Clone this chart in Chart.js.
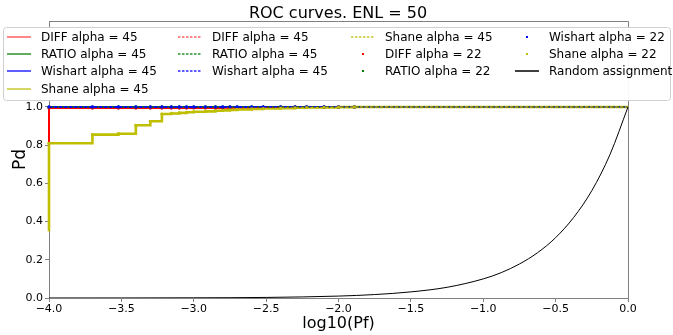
<!DOCTYPE html>
<html>
<head>
<meta charset="utf-8">
<script src="https://cdn.jsdelivr.net/npm/chart.js@4"></script>
<style>
  html, body { margin: 0; padding: 0; background: #fff; }
  #wrap { width: 673px; height: 335px; }
</style>
</head>
<body>
<div id="wrap"><canvas id="roc" width="673" height="335"></canvas></div>
<script>
// log10(Pf) positions where the ROC curves step
const pfLog = [-4.0, -3.7, -3.52, -3.4, -3.3, -3.22, -3.155, -3.1, -3.05, -3.0, -2.92, -2.85, -2.8,
  -2.75, -2.7, -2.6, -2.52, -2.4, -2.3, -2.22, -2.1, -2.0, -1.89, -1.5, -1.0, -0.5, 0.0];

const pdDiff = [0.994, 0.994, 0.994, 0.994, 0.994, 0.994, 0.994, 0.994, 0.994, 0.995, 0.995, 0.995, 0.996,
  0.996, 0.996, 0.997, 0.998, 0.999, 1.0, 1.0, 1.0, 1.0, 1.0, 1.0, 1.0, 1.0, 1.0];
const pdRatio = [1.0, 1.0, 1.0, 1.0, 1.0, 1.0, 1.0, 1.0, 1.0, 1.0, 1.0, 1.0, 1.0,
  1.0, 1.0, 1.0, 1.0, 1.0, 1.0, 1.0, 1.0, 1.0, 1.0, 1.0, 1.0, 1.0, 1.0];
const pdWishart = [1.0, 1.0, 1.0, 1.0, 1.0, 1.0, 1.0, 1.0, 1.0, 1.0, 1.0, 1.0, 1.0,
  1.0, 1.0, 1.0, 1.0, 1.0, 1.0, 1.0, 1.0, 1.0, 1.0, 1.0, 1.0, 1.0, 1.0];
const pdShane = [0.81, 0.855, 0.86, 0.904, 0.925, 0.963, 0.966, 0.969, 0.972, 0.975, 0.977, 0.98, 0.982,
  0.985, 0.987, 0.99, 0.992, 0.994, 0.996, 0.997, 0.998, 0.999, 1.0, 1.0, 1.0, 1.0, 1.0];

// Pd where each curve starts at log10(Pf) = -4
const startDiff = 0.80;
const startRatio = 0.99;
const startWishart = 1.0;
const startShane = 0.35;

// the alpha = 22 markers stop here
const dotCount = 23;

const randX = [-4, -3.5, -3, -2.5, -2, -1.75, -1.5, -1.25, -1, -0.875, -0.75, -0.625, -0.5, -0.375, -0.25, -0.125, 0];
const randY = [0.0001, 0.0003, 0.001, 0.003, 0.01, 0.018, 0.032, 0.056, 0.1, 0.133, 0.178, 0.237, 0.316, 0.422, 0.562, 0.75, 1.0];

const yTicks = [0, 0.2, 0.4, 0.6, 0.8, 1.0];

const RED = '#ff0000', GREEN = '#008000', BLUE = '#0000ff', YEL = '#bfbf00';
// handle colours used in the legend
const LEG_RED = '#ff6060', LEG_GREEN = '#2a922a', LEG_BLUE = '#2828ff', LEG_YEL = '#c8c830';

function curve(start, ys) {
  const pts = [{ x: pfLog[0], y: start }];
  ys.forEach((y, i) => pts.push({ x: pfLog[i], y: y }));
  return pts;
}
function dots(ys) {
  return ys.slice(0, dotCount).map((y, i) => ({ x: pfLog[i], y: y }));
}

function solid(label, color, leg, data, w) {
  return { label, data, borderColor: color, backgroundColor: color, borderWidth: w || 2,
    pointRadius: 0, showLine: true, stepped: 'before', clip: 4, kind: 'line', leg: leg };
}
function dashed(label, color, leg, data) {
  return { label, data, borderColor: color, backgroundColor: color, borderWidth: 1.2,
    borderDash: [3, 2], pointRadius: 0, showLine: true, stepped: 'before', clip: 4, kind: 'dash', leg: leg };
}
function dotted(label, color, data) {
  return { label, data, borderColor: color, backgroundColor: color, pointRadius: 1.6,
    pointBorderWidth: 0, showLine: false, clip: 4, kind: 'dot', leg: color };
}

const datasets = [
  solid('DIFF alpha = 45', RED, LEG_RED, curve(startDiff, pdDiff)),
  solid('RATIO alpha = 45', GREEN, LEG_GREEN, curve(startRatio, pdRatio)),
  solid('Wishart alpha = 45', BLUE, LEG_BLUE, curve(startWishart, pdWishart)),
  solid('Shane alpha = 45', YEL, LEG_YEL, curve(startShane, pdShane), 2.6),
  dashed('DIFF alpha = 45', RED, LEG_RED, curve(startDiff, pdDiff)),
  dashed('RATIO alpha = 45', GREEN, LEG_GREEN, curve(startRatio, pdRatio)),
  dashed('Wishart alpha = 45', BLUE, LEG_BLUE, curve(startWishart, pdWishart)),
  dashed('Shane alpha = 45', YEL, LEG_YEL, curve(startShane, pdShane)),
  dotted('DIFF alpha = 22', RED, dots(pdDiff)),
  dotted('RATIO alpha = 22', GREEN, dots(pdRatio)),
  dotted('Wishart alpha = 22', BLUE, dots(pdWishart)),
  dotted('Shane alpha = 22', YEL, dots(pdShane)),
  { label: 'Random assignment', data: randX.map((x, i) => ({ x: x, y: randY[i] })),
    borderColor: '#000', backgroundColor: '#000', borderWidth: 1, pointRadius: 0,
    showLine: true, cubicInterpolationMode: 'monotone', kind: 'line', leg: '#000' }
];
// later series on top, like the original
datasets.forEach((d, i) => { d.order = datasets.length - i; });

const SPINE = '#808080';
const FONT = 'DejaVu Sans';

const decorPlugin = {
  id: 'decor',
  afterDraw(chart) {
    const ctx = chart.ctx;
    const a = chart.chartArea;
    ctx.save();
    // top and right spines
    ctx.strokeStyle = SPINE;
    ctx.lineWidth = 1;
    ctx.beginPath();
    ctx.moveTo(a.left, a.top + 0.5);
    ctx.lineTo(a.right + 0.5, a.top + 0.5);
    ctx.lineTo(a.right + 0.5, a.bottom);
    ctx.stroke();

    // title
    ctx.fillStyle = '#000';
    ctx.font = '16px "' + FONT + '"';
    ctx.textAlign = 'center';
    ctx.textBaseline = 'alphabetic';
    ctx.fillText('ROC curves. ENL = 50', 338, 18);

    // legend box
    const bx = 3, by = 27, bw = 667, bh = 73;
    ctx.beginPath();
    ctx.roundRect(bx + 0.5, by + 0.5, bw, bh, 3);
    ctx.fillStyle = 'rgba(255,255,255,0.95)';
    ctx.fill();
    ctx.strokeStyle = '#d0d0d0';
    ctx.lineWidth = 1;
    ctx.stroke();

    const cols = [[0, 1, 2, 3], [4, 5, 6], [7, 8, 9], [10, 11, 12]];
    const colX = [7, 178, 351, 515];
    const rowY = [37, 54, 71, 89];
    ctx.font = '12px "' + FONT + '"';
    ctx.textAlign = 'left';
    ctx.textBaseline = 'middle';
    cols.forEach((col, c) => {
      col.forEach((di, r) => {
        const d = chart.data.datasets[di];
        const x0 = colX[c], y0 = rowY[r];
        if (d.kind === 'dot') {
          ctx.fillStyle = d.leg;
          ctx.fillRect(x0 + 11, y0 - 1, 2, 2);
        } else {
          ctx.strokeStyle = d.leg;
          ctx.lineWidth = 1.5;
          ctx.setLineDash(d.kind === 'dash' ? [2.5, 1.5] : []);
          ctx.beginPath();
          ctx.moveTo(x0, y0);
          ctx.lineTo(x0 + 24, y0);
          ctx.stroke();
          ctx.setLineDash([]);
        }
        ctx.fillStyle = '#000';
        ctx.fillText(d.label, x0 + 34, y0 + 1);
      });
    });
    ctx.restore();
  }
};

new Chart(document.getElementById('roc'), {
  type: 'scatter',
  data: { datasets },
  options: {
    responsive: false,
    animation: false,
    devicePixelRatio: 1,
    layout: { padding: { top: 21, right: 45, left: 0, bottom: 0 } },
    plugins: { legend: { display: false }, title: { display: false }, tooltip: { enabled: false } },
    scales: {
      x: {
        type: 'linear', min: -4, max: 0,
        afterFit(s) { s.height = 37; },
        border: { display: true, color: SPINE },
        grid: { display: true, drawOnChartArea: false, drawTicks: true, tickLength: 4, color: SPINE },
        ticks: {
          stepSize: 0.5, padding: 1, color: '#000', font: { family: FONT, size: 11 },
          maxRotation: 0,
          callback: v => (Math.abs(v) < 1e-9 ? '0.0' : v.toFixed(1).replace('-', '\u2212'))
        },
        title: { display: true, text: 'log10(Pf)', color: '#000', font: { family: FONT, size: 16 }, padding: { top: 0, bottom: 2 } }
      },
      y: {
        type: 'linear', min: 0, max: 1.45,
        afterFit(s) { s.width = 49; },
        afterBuildTicks(s) { s.ticks = yTicks.map(v => ({ value: v })); },
        border: { display: true, color: SPINE },
        grid: { display: true, drawOnChartArea: false, drawTicks: true, tickLength: 4, color: SPINE },
        ticks: { padding: 2, color: '#000', font: { family: FONT, size: 11 }, callback: v => v.toFixed(1) },
        title: { display: true, text: 'Pd', color: '#000', font: { family: FONT, size: 17 }, padding: { top: 10, bottom: 0 } }
      }
    }
  },
  plugins: [decorPlugin]
});
</script>
</body>
</html>
